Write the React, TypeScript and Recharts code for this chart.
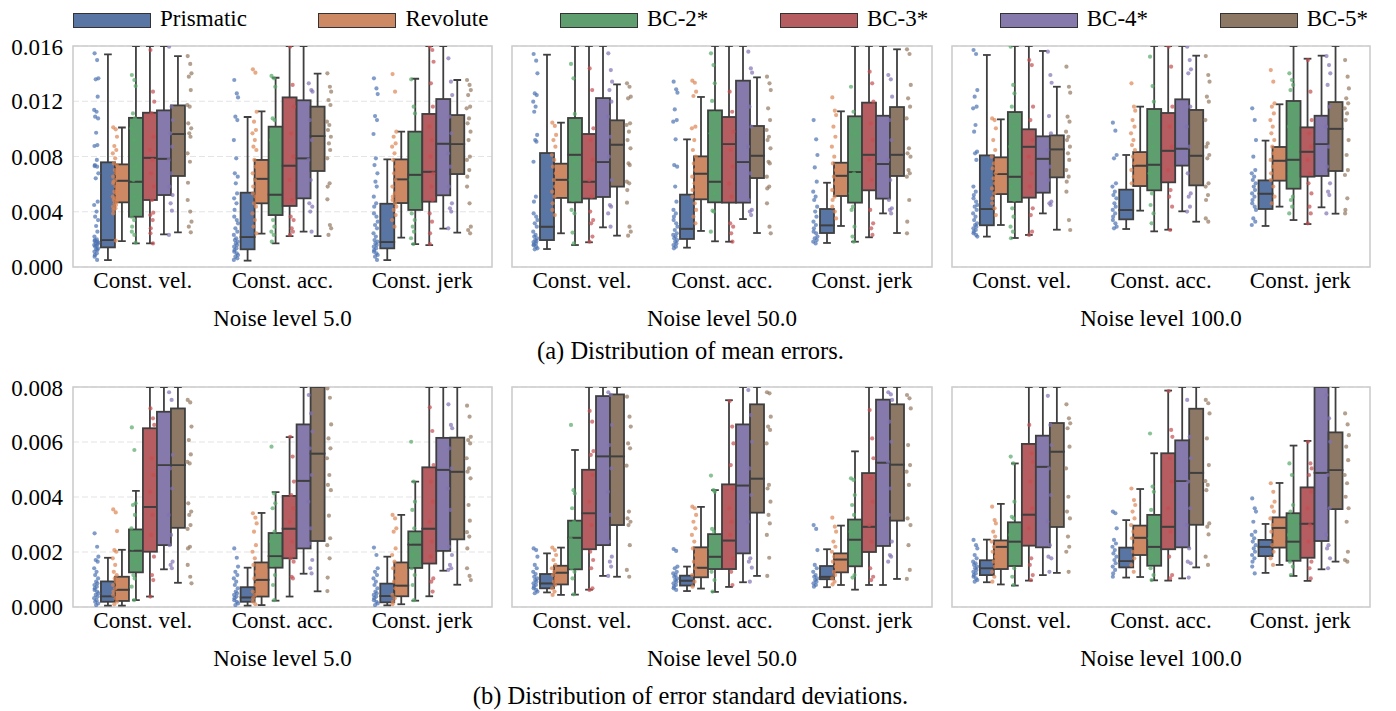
import React from 'react';
import { ComposedChart, Bar, Scatter, XAxis, YAxis, CartesianGrid, ReferenceArea, Legend } from 'recharts';

// ---------- categories / series ----------
const CATEGORIES = ['Const. vel.', 'Const. acc.', 'Const. jerk'];
const SERIES = ['Prismatic', 'Revolute', 'BC-2*', 'BC-3*', 'BC-4*', 'BC-5*'];
const NOISE_LABELS = ['Noise level 5.0', 'Noise level 50.0', 'Noise level 100.0'];
const CAPTIONS = ['(a) Distribution of mean errors.', '(b) Distribution of error standard deviations.'];

// values are in units of 1e-3
const MEAN_TICKS = [0, 4, 8, 12, 16];
const MEAN_TICK_LABELS = ['0.000', '0.004', '0.008', '0.012', '0.016'];
const STD_TICKS = [0, 2, 4, 6, 8];
const STD_TICK_LABELS = ['0.000', '0.002', '0.004', '0.006', '0.008'];

// box stats per series -> per category: [lower whisker, q1, median, q3, upper whisker]
const meanN5Stats = [
  [[0.5, 1.42, 1.95, 7.58, 15.4], [0.46, 1.28, 2.17, 5.38, 10.86], [0.5, 1.35, 1.81, 4.58, 7.79]],
  [[1.88, 4.68, 6.25, 7.43, 10.1], [2.41, 4.61, 6.39, 7.75, 11.27], [2.12, 4.63, 6.35, 7.79, 9.8]],
  [[1.71, 3.64, 6.18, 10.8, 17.5], [1.71, 3.76, 5.24, 10.16, 13.7], [1.66, 4.13, 6.68, 9.8, 13.63]],
  [[1.71, 4.85, 7.91, 11.17, 17], [2.24, 4.42, 7.34, 12.28, 17.5], [1.59, 4.73, 6.9, 11.08, 17]],
  [[2.36, 5.21, 7.84, 11.34, 16.5], [2.56, 4.97, 7.87, 12.07, 18], [2.78, 5.19, 8.93, 12.16, 18]],
  [[2.51, 6.59, 9.63, 11.7, 15.27], [2.24, 6.95, 9.48, 11.61, 14.0], [2.49, 6.73, 8.9, 11.0, 13.54]],
];
const meanN50Stats = [
  [[1.3, 1.95, 2.92, 8.25, 15.37], [1.4, 2.03, 2.77, 5.24, 9.24], [1.74, 2.46, 3.02, 4.2, 6.1]],
  [[2.44, 5.0, 6.32, 7.48, 10.45], [2.61, 4.9, 6.76, 8.01, 12.31], [2.97, 5.14, 6.61, 7.55, 11.27]],
  [[1.59, 4.68, 8.13, 10.79, 18], [1.86, 4.68, 6.18, 11.34, 18], [1.83, 4.66, 6.88, 10.91, 18]],
  [[1.79, 4.95, 6.18, 9.63, 17], [1.83, 4.66, 8.9, 10.86, 18], [2.15, 5.55, 8.13, 11.9, 18]],
  [[2.87, 5.07, 7.6, 12.23, 18], [3.47, 4.66, 7.6, 13.49, 19], [3.88, 4.95, 7.46, 10.95, 17]],
  [[2.27, 5.82, 8.86, 10.62, 13.22], [2.46, 6.44, 8.06, 10.21, 13.73], [2.46, 6.59, 8.13, 11.58, 15.76]],
];
const meanN100Stats = [
  [[2.2, 3.02, 4.2, 8.08, 15.35], [2.75, 3.45, 4.13, 5.6, 8.11], [2.97, 4.2, 5.31, 6.27, 9.15]],
  [[3.04, 5.28, 6.73, 7.94, 10.69], [4.08, 5.86, 7.34, 8.32, 11.61], [4.37, 6.25, 7.7, 8.69, 11.78]],
  [[2.1, 4.71, 6.54, 11.22, 18], [2.58, 5.55, 7.41, 11.44, 18], [3.4, 5.67, 7.77, 12.02, 18]],
  [[2.32, 5.02, 8.71, 9.97, 17.5], [2.7, 6.13, 8.42, 11.15, 17], [3.11, 6.54, 8.35, 10.11, 15.08]],
  [[3.88, 5.38, 7.84, 9.46, 15.64], [4.03, 7.34, 8.57, 12.14, 18], [4.32, 6.59, 8.9, 10.95, 15.3]],
  [[2.7, 6.49, 8.52, 9.53, 13.05], [3.28, 5.91, 8.06, 11.37, 15.3], [3.86, 6.95, 10.01, 11.94, 17]],
];
const stdN5Stats = [
  [[0.05, 0.19, 0.39, 0.93, 1.79], [0.05, 0.19, 0.35, 0.72, 1.43], [0.06, 0.17, 0.4, 0.85, 1.83]],
  [[0.05, 0.22, 0.63, 1.1, 2.08], [0.07, 0.38, 0.99, 1.62, 3.42], [0.1, 0.39, 0.78, 1.62, 3.35]],
  [[0.25, 1.26, 2.05, 2.82, 4.22], [0.23, 1.43, 1.85, 2.69, 4.18], [0.23, 1.42, 2.27, 2.75, 4.56]],
  [[0.38, 2.01, 3.64, 6.5, 9], [0.38, 1.77, 2.85, 4.04, 6.18], [0.39, 1.58, 2.85, 5.08, 9]],
  [[1.37, 2.25, 5.16, 7.1, 9.5], [1.21, 2.13, 4.59, 6.64, 9.5], [1.32, 2.04, 4.99, 6.15, 9.5]],
  [[0.88, 2.88, 5.16, 7.22, 9.5], [0.57, 2.4, 5.58, 8.1, 11], [0.81, 2.46, 4.92, 6.16, 9.5]],
];
const stdN50Stats = [
  [[0.53, 0.68, 0.86, 1.2, 1.95], [0.58, 0.78, 0.96, 1.14, 1.47], [0.72, 1.01, 1.1, 1.49, 2.1]],
  [[0.44, 0.82, 1.25, 1.5, 2.16], [0.67, 1.08, 1.43, 2.17, 3.64], [0.8, 1.26, 1.73, 1.95, 2.96]],
  [[0.45, 1.37, 2.52, 3.14, 5.71], [0.55, 1.38, 1.83, 2.65, 4.25], [0.63, 1.48, 2.45, 3.18, 5.66]],
  [[0.63, 2.1, 3.41, 4.99, 9], [0.73, 1.38, 2.42, 4.46, 7.52], [0.8, 2.0, 2.92, 4.87, 9]],
  [[1.13, 2.25, 5.48, 7.67, 10], [0.9, 1.95, 4.42, 6.64, 10], [0.8, 2.22, 5.25, 7.54, 10]],
  [[1.1, 2.98, 5.48, 7.73, 10], [1.13, 3.43, 4.67, 7.37, 10], [1.02, 3.14, 5.18, 7.37, 10]],
];
const stdN100Stats = [
  [[0.9, 1.16, 1.41, 1.7, 2.45], [1.07, 1.44, 1.67, 2.16, 3.16], [1.24, 1.85, 2.19, 2.44, 3.02]],
  [[0.82, 1.38, 2.19, 2.42, 3.75], [1.09, 1.89, 2.52, 2.96, 4.29], [1.53, 2.16, 2.88, 3.26, 4.51]],
  [[0.78, 1.49, 2.38, 3.08, 5.22], [0.97, 1.5, 2.19, 3.35, 5.59], [1.13, 1.68, 2.38, 3.41, 5.87]],
  [[0.96, 2.23, 3.36, 5.93, 9], [0.96, 2.1, 2.92, 5.59, 7.87], [0.95, 1.79, 3.03, 4.35, 6.04]],
  [[1.16, 2.17, 5.1, 6.23, 9.5], [1.04, 2.17, 4.58, 6.06, 9.5], [1.37, 2.4, 4.88, 8.2, 10]],
  [[1.24, 2.91, 5.65, 6.69, 10], [1.44, 2.99, 4.88, 7.21, 10], [1.65, 3.56, 4.98, 6.35, 9.5]],
];

// strip points per series -> per category
const meanN5Pts = [
  [
    [15.47, 14.98, 13.66, 13.59, 12.33, 11.37, 11.24, 10.88, 10.76, 9.72, 8.83, 8.76, 7.75, 7.38, 7.31, 7.26, 6.78, 6.42, 4.73, 4.49, 4.01, 3.64, 3.4, 2.97, 2.56, 2.2, 2.0, 1.95, 1.88, 1.83, 1.76, 1.71, 1.66, 1.59, 1.52, 1.47, 1.35, 1.28, 1.23, 1.11, 0.99, 0.87, 0.75, 0.51],
    [13.54, 12.57, 12.28, 10.88, 10.64, 9.19, 7.87, 6.78, 6.54, 6.06, 5.33, 4.97, 4.61, 4.13, 3.64, 3.4, 3.16, 2.8, 2.56, 2.32, 2.08, 1.95, 1.83, 1.71, 1.59, 1.47, 1.35, 1.23, 1.11, 0.99, 0.87, 0.75, 0.63, 0.51],
    [13.66, 12.93, 12.52, 10.93, 10.64, 9.63, 7.87, 7.38, 6.78, 6.18, 5.82, 5.09, 4.61, 4.37, 3.88, 3.64, 3.28, 3.04, 2.8, 2.44, 2.2, 1.95, 1.83, 1.71, 1.59, 1.47, 1.35, 1.23, 1.11, 0.99, 0.87, 0.75, 0.51],
  ],
  [
    [10.11, 9.97, 9.43, 8.76, 8.47, 8.23, 7.87, 7.5, 7.38, 7.02, 6.78, 6.54, 6.3, 6.18, 6.06, 5.82, 5.57, 5.45, 5.33, 5.09, 4.97, 4.85, 4.73, 4.61, 4.49, 4.37, 4.25, 4.13, 3.88, 1.91],
    [14.31, 14.07, 11.24, 10.52, 9.92, 9.68, 9.19, 8.71, 8.47, 7.75, 7.26, 6.78, 6.3, 5.82, 5.33, 5.09, 4.85, 4.61, 4.37, 3.88, 3.4, 2.92, 2.44],
    [13.97, 12.69, 9.8, 9.43, 8.95, 8.71, 8.23, 7.75, 7.26, 6.78, 6.3, 5.82, 5.33, 5.09, 4.85, 4.61, 4.37, 4.13, 3.76, 3.4, 2.92],
  ],
  [
    [13.9, 13.54, 13.1, 11.12, 10.76, 10.04, 9.19, 8.23, 7.26, 6.3, 5.09, 3.64, 3.4, 2.92, 2.56, 2.32, 1.76],
    [13.83, 13.66, 13.05, 10.76, 10.64, 9.19, 7.75, 6.3, 4.85, 3.4, 2.92, 2.56, 2.32, 1.83],
    [13.59, 11.61, 11.12, 9.19, 7.75, 6.3, 4.85, 3.88, 3.4, 2.92, 2.56, 2.08, 1.66],
  ],
  [
    [15.71, 12.69, 11.97, 11.12, 9.43, 8.47, 7.75, 6.78, 5.82, 4.85, 3.93, 3.76, 3.4, 2.8, 2.44, 1.71],
    [15.95, 13.18, 11.61, 9.68, 7.99, 6.3, 4.85, 3.64, 3.4, 2.8, 2.56, 2.32],
    [15.95, 15.71, 14.86, 13.3, 11.61, 10.16, 9.19, 7.99, 6.78, 5.82, 4.85, 3.88, 3.28, 2.44, 1.66],
  ],
  [
    [15.95, 11.61, 10.64, 9.68, 8.71, 7.75, 6.78, 5.82, 5.21, 4.61, 4.08, 2.32],
    [13.3, 12.81, 12.69, 10.64, 9.19, 7.75, 6.3, 4.61, 4.37, 4.01, 2.56],
    [15.11, 13.42, 12.45, 10.88, 9.68, 8.23, 7.26, 5.82, 4.61, 4.25, 4.01, 2.8],
  ],
  [
    [15.27, 14.7, 14.02, 13.78, 12.81, 11.73, 11.61, 10.4, 10.04, 9.68, 9.43, 8.23, 7.62, 6.1, 4.85, 4.01, 3.28, 2.92, 2.51],
    [14.02, 13.05, 12.69, 12.09, 11.73, 10.52, 10.28, 9.92, 9.43, 8.95, 8.47, 7.87, 6.06, 5.82, 4.9, 3.04, 2.8, 2.32],
    [13.54, 13.18, 12.81, 12.45, 11.61, 11.49, 10.76, 10.4, 9.8, 9.19, 7.99, 7.75, 7.02, 6.54, 5.82, 4.61, 2.92, 2.68, 2.44],
  ],
];
const meanN50Pts = [
  [
    [15.42, 14.94, 14.02, 12.57, 12.45, 11.97, 11.61, 11.24, 9.56, 9.19, 9.07, 7.62, 5.09, 4.73, 3.88, 3.64, 3.4, 3.16, 2.92, 2.56, 2.32, 2.2, 2.08, 1.95, 1.88, 1.81, 1.71, 1.64, 1.57, 1.47, 1.35, 1.28],
    [13.42, 12.86, 12.62, 11.41, 10.64, 10.52, 9.24, 7.38, 7.26, 5.82, 4.73, 4.13, 3.88, 3.64, 3.4, 3.16, 2.92, 2.68, 2.44, 2.32, 2.2, 2.08, 1.95, 1.83, 1.71, 1.59, 1.47, 1.35],
    [10.64, 9.24, 8.11, 7.21, 6.18, 5.45, 5.09, 4.85, 4.37, 4.01, 3.64, 3.28, 3.04, 2.8, 2.56, 2.44, 2.2, 2.08, 1.95, 1.83, 1.71],
  ],
  [
    [10.45, 10.21, 9.56, 9.19, 8.71, 8.11, 7.75, 7.26, 6.78, 6.3, 5.82, 5.45, 5.09, 4.61, 4.13, 3.76],
    [13.49, 13.34, 12.69, 12.38, 10.16, 10.04, 9.19, 8.47, 7.99, 7.5, 7.02, 6.54, 6.06, 5.57, 5.09, 4.61, 4.13, 3.64, 3.16],
    [12.28, 11.32, 11.0, 10.16, 9.43, 8.71, 7.99, 7.5, 7.02, 6.54, 6.06, 5.57, 5.09, 4.85, 4.37, 4.01, 3.52],
  ],
  [
    [14.7, 13.66, 11.08, 9.19, 7.75, 6.3, 4.85, 4.13, 3.88, 2.49, 1.71],
    [15.47, 14.62, 13.3, 12.02, 11.12, 9.68, 8.23, 6.78, 5.33, 4.08, 4.01, 2.56],
    [13.05, 11.24, 9.68, 8.23, 6.78, 5.33, 4.37, 4.13, 2.92, 2.2, 1.83],
  ],
  [
    [14.38, 12.81, 10.04, 9.19, 7.75, 6.3, 5.09, 4.01, 3.4, 3.16, 2.2, 1.83],
    [12.69, 11.24, 9.8, 8.47, 7.26, 6.06, 5.09, 3.16, 2.92, 2.44, 1.83],
    [14.14, 13.3, 11.97, 10.4, 9.19, 7.75, 6.3, 4.13, 3.16, 2.8, 2.32],
  ],
  [
    [15.47, 14.26, 13.42, 12.81, 11.97, 10.88, 9.43, 7.99, 6.3, 4.49, 4.37, 3.88, 2.92],
    [15.59, 14.38, 14.07, 11.61, 10.16, 8.71, 6.78, 4.85, 4.13, 4.01, 3.76],
    [13.9, 13.59, 12.33, 10.64, 9.19, 7.75, 6.3, 4.85, 4.25, 4.13, 3.88],
  ],
  [
    [13.3, 13.05, 12.33, 12.21, 10.4, 10.28, 9.8, 9.19, 8.59, 7.5, 7.38, 6.18, 6.06, 5.57, 4.66, 2.92, 2.56, 2.27],
    [13.78, 13.3, 12.81, 11.49, 10.64, 9.92, 9.43, 9.19, 8.59, 7.62, 7.5, 6.54, 5.82, 5.69, 4.61, 2.92, 2.44],
    [15.76, 15.42, 13.18, 12.21, 11.61, 10.76, 8.59, 8.23, 7.99, 7.02, 6.78, 6.54, 4.85, 3.28, 2.44],
  ],
];
const meanN100Pts = [
  [
    [15.71, 15.42, 12.81, 12.33, 11.61, 11.49, 10.28, 9.8, 8.35, 8.23, 7.75, 5.82, 5.45, 5.21, 4.97, 4.73, 4.49, 4.37, 4.13, 3.88, 3.64, 3.4, 3.16, 3.04, 2.92, 2.8, 2.68, 2.56, 2.44, 2.32, 2.2],
    [10.45, 9.87, 8.11, 7.87, 6.06, 5.82, 5.45, 5.21, 4.97, 4.61, 4.37, 4.13, 3.88, 3.64, 3.4, 3.16, 2.92, 2.8],
    [11.49, 10.64, 9.19, 7.99, 7.02, 6.78, 6.54, 6.3, 6.06, 5.82, 5.57, 5.33, 5.09, 4.85, 4.61, 4.37, 4.13, 3.52, 3.28, 3.04],
  ],
  [
    [10.76, 10.64, 10.04, 9.19, 8.47, 7.99, 7.5, 7.14, 6.78, 6.42, 6.06, 5.69, 5.33, 4.97, 4.61, 4.25, 3.76],
    [13.3, 11.61, 11.32, 10.64, 10.16, 9.68, 9.19, 8.83, 8.47, 7.99, 7.5, 7.02, 6.54, 6.06],
    [14.26, 13.42, 11.85, 11.61, 11.12, 10.64, 10.16, 9.68, 9.19, 8.71, 8.23, 7.75, 7.26, 6.78, 6.3, 5.82, 5.09, 4.61],
  ],
  [
    [15.95, 13.18, 12.57, 11.61, 10.16, 8.71, 7.26, 5.82, 4.85, 4.25, 3.64, 2.92, 2.56, 2.08],
    [15.23, 13.1, 11.97, 10.4, 8.71, 6.78, 5.33, 4.49, 3.88, 3.16],
    [14.02, 13.54, 13.18, 12.81, 11.61, 10.16, 8.71, 6.78, 5.09, 4.85, 4.37, 3.88],
  ],
  [
    [14.98, 14.62, 11.61, 10.64, 9.19, 7.99, 6.78, 5.82, 4.25, 3.76, 2.56, 2.32],
    [15.95, 14.5, 11.61, 10.16, 8.71, 7.02, 5.57, 5.09, 4.37, 2.68],
    [14.98, 12.69, 10.64, 9.68, 8.71, 7.75, 6.78, 6.06, 5.33, 4.37, 3.88, 3.16],
  ],
  [
    [15.59, 13.9, 13.34, 10.93, 9.68, 8.47, 7.26, 6.3, 4.73, 4.61, 4.49],
    [15.95, 14.98, 14.31, 14.02, 11.61, 10.16, 8.71, 6.78, 5.33, 5.09, 4.37, 4.01],
    [15.27, 14.62, 14.02, 13.18, 11.61, 10.16, 8.71, 7.26, 6.06, 5.45, 5.21, 3.88],
  ],
  [
    [14.5, 13.05, 12.62, 10.88, 10.52, 9.8, 9.43, 9.19, 8.71, 8.23, 7.75, 7.02, 6.54, 6.18, 5.45, 3.4, 2.68],
    [15.27, 13.9, 13.42, 12.33, 11.97, 10.64, 8.95, 8.71, 8.11, 7.87, 6.06, 5.82, 5.21, 4.85, 3.52, 3.28],
    [14.98, 13.78, 12.93, 12.21, 11.85, 11.49, 11.12, 10.64, 9.19, 8.11, 7.02, 6.66, 4.97, 4.13, 3.88],
  ],
];
const stdN5Pts = [
  [
    [2.68, 2.19, 1.83, 1.71, 1.65, 1.41, 1.28, 1.16, 1.04, 0.92, 0.86, 0.8, 0.74, 0.68, 0.62, 0.56, 0.5, 0.44, 0.38, 0.32, 0.25, 0.19, 0.13, 0.07],
    [2.13, 1.79, 1.47, 1.28, 1.16, 1.04, 0.92, 0.8, 0.68, 0.56, 0.5, 0.44, 0.38, 0.32, 0.25, 0.19, 0.13, 0.07],
    [2.16, 1.89, 1.41, 1.28, 1.16, 1.04, 0.92, 0.8, 0.68, 0.56, 0.5, 0.44, 0.38, 0.32, 0.25, 0.19, 0.13, 0.07],
  ],
  [
    [3.55, 3.44, 2.76, 2.07, 2.01, 1.77, 1.53, 1.28, 1.16, 1.04, 0.92, 0.8, 0.68, 0.56, 0.44, 0.32, 0.19, 0.1],
    [3.41, 3.25, 3.04, 2.74, 2.25, 2.01, 1.77, 1.53, 1.28, 1.04, 0.8, 0.56, 0.44, 0.32, 0.19, 0.1],
    [3.35, 3.22, 2.86, 2.74, 2.13, 1.89, 1.65, 1.41, 1.16, 0.92, 0.68, 0.44, 0.32, 0.19, 0.1],
  ],
  [
    [6.53, 5.71, 3.77, 3.71, 3.35, 2.86, 2.62, 2.13, 1.65, 1.16, 1.04, 0.74, 0.25],
    [5.83, 4.13, 3.77, 3.59, 2.74, 2.38, 2.01, 1.53, 1.16, 0.8, 0.25],
    [6.01, 4.56, 3.83, 3.53, 2.86, 2.38, 1.89, 1.41, 1.16, 0.8, 0.25],
  ],
  [
    [7.22, 6.86, 6.62, 5.41, 4.8, 4.19, 3.35, 2.62, 1.83, 1.16, 0.98, 0.38],
    [6.19, 5.47, 4.56, 4.07, 3.59, 3.1, 2.38, 1.77, 1.65, 1.1, 1.04],
    [7.26, 6.4, 5.16, 4.56, 3.83, 3.1, 2.38, 1.83, 1.04, 0.92, 0.56],
  ],
  [
    [7.81, 7.53, 5.53, 5.04, 4.31, 3.35, 2.62, 2.25, 1.65, 1.53, 1.41],
    [7.71, 7.04, 6.38, 5.77, 4.8, 3.83, 2.86, 2.31, 1.71, 1.41, 1.22],
    [7.37, 6.62, 6.5, 5.77, 5.04, 4.31, 3.53, 2.19, 1.89, 1.53, 1.41, 1.35],
  ],
  [
    [7.53, 7.44, 6.56, 6.07, 5.55, 5.28, 5.22, 3.77, 3.47, 3.35, 2.98, 2.84, 2.19, 2.13, 1.53, 1.1, 0.86],
    [7.95, 7.61, 6.64, 6.13, 5.77, 5.41, 4.8, 4.44, 4.25, 3.32, 2.5, 2.25, 1.77, 1.07, 0.58],
    [7.32, 6.92, 6.19, 6.07, 5.95, 5.41, 5.04, 4.92, 4.68, 3.71, 3.14, 2.72, 2.56, 2.13, 1.41, 1.13, 0.98],
  ],
];
const stdN50Pts = [
  [
    [2.13, 2.07, 1.83, 1.53, 1.41, 1.28, 1.2, 1.1, 1.04, 0.98, 0.92, 0.86, 0.8, 0.74, 0.68, 0.62, 0.56, 0.5],
    [2.11, 2.04, 1.47, 1.41, 1.28, 1.22, 1.16, 1.1, 1.04, 0.98, 0.92, 0.86, 0.8, 0.74, 0.68, 0.62],
    [2.98, 2.84, 2.07, 1.53, 1.41, 1.28, 1.16, 1.1, 1.04, 0.98, 0.92, 0.86, 0.8, 0.74],
  ],
  [
    [2.16, 2.07, 1.89, 1.71, 1.53, 1.41, 1.28, 1.16, 1.04, 0.92, 0.8, 0.68, 0.56, 0.44],
    [3.65, 3.59, 3.35, 3.1, 2.86, 2.62, 2.38, 2.13, 1.89, 1.65, 1.41, 1.16, 0.92, 0.74],
    [3.25, 2.92, 2.74, 2.38, 2.19, 2.01, 1.83, 1.65, 1.47, 1.28, 1.16, 1.04, 0.92, 0.82],
  ],
  [
    [6.62, 4.25, 4.13, 3.59, 3.1, 2.5, 1.89, 1.41, 1.28, 1.04, 0.46],
    [4.78, 4.25, 4.19, 2.84, 2.74, 2.13, 1.65, 1.28, 0.98, 0.56],
    [4.68, 4.62, 4.07, 3.71, 3.35, 2.74, 2.13, 1.65, 1.16, 1.07],
  ],
  [
    [7.13, 6.74, 5.67, 5.53, 4.8, 3.83, 2.98, 2.01, 1.71, 1.41, 0.68, 0.62],
    [7.49, 6.56, 5.95, 5.16, 4.31, 3.59, 3.1, 2.62, 1.77, 1.28, 0.8],
    [7.16, 6.13, 5.41, 4.68, 3.83, 2.98, 2.38, 1.41, 1.1, 0.98],
  ],
  [
    [7.81, 7.71, 6.62, 5.89, 5.04, 4.19, 3.35, 2.38, 1.83, 1.65, 1.47, 1.13],
    [7.89, 6.98, 6.01, 5.04, 4.07, 3.1, 1.77, 1.65, 1.43, 0.92],
    [7.81, 7.73, 7.53, 6.74, 6.01, 5.28, 4.31, 3.35, 2.38, 1.89, 1.83, 1.65],
  ],
  [
    [7.65, 6.92, 6.56, 5.95, 5.77, 5.14, 3.47, 3.22, 3.1, 2.98, 2.25, 1.35, 1.1],
    [7.81, 7.77, 6.92, 6.56, 6.44, 5.95, 4.44, 4.31, 3.83, 3.35, 3.04, 2.62, 1.79, 1.13],
    [7.71, 7.59, 7.22, 5.89, 5.16, 4.92, 4.44, 3.22, 2.98, 2.25, 1.35, 1.02],
  ],
];
const stdN100Pts = [
  [
    [2.44, 2.25, 2.13, 1.89, 1.77, 1.65, 1.59, 1.53, 1.47, 1.41, 1.35, 1.28, 1.22, 1.16, 1.1, 1.04, 0.98, 0.92],
    [3.47, 3.41, 2.86, 2.44, 2.31, 2.19, 2.07, 1.95, 1.83, 1.71, 1.59, 1.47, 1.35, 1.22, 1.1],
    [3.95, 3.59, 3.47, 3.1, 2.74, 2.62, 2.5, 2.38, 2.25, 2.13, 2.01, 1.89, 1.77, 1.65, 1.47, 1.22],
  ],
  [
    [3.65, 3.16, 3.04, 2.74, 2.56, 2.38, 2.19, 2.01, 1.83, 1.65, 1.47, 1.28, 1.1, 0.92],
    [4.31, 3.89, 3.71, 3.47, 3.22, 2.98, 2.74, 2.5, 2.25, 2.01, 1.77, 1.53, 1.28],
    [4.5, 4.19, 3.83, 3.65, 3.47, 3.22, 2.98, 2.74, 2.5, 2.25, 2.01, 1.77, 1.53],
  ],
  [
    [5.47, 5.22, 3.83, 3.28, 3.22, 2.62, 2.13, 1.65, 1.41, 1.1, 0.8],
    [6.31, 4.38, 4.19, 3.53, 3.1, 2.5, 1.89, 1.41, 1.16, 0.98],
    [5.22, 4.8, 3.71, 3.47, 3.1, 2.62, 2.01, 1.65, 1.47, 1.16],
  ],
  [
    [6.62, 5.59, 5.28, 4.56, 3.59, 2.86, 1.77, 1.53, 1.16, 0.98],
    [7.85, 6.44, 6.19, 5.41, 4.56, 3.59, 2.74, 1.83, 1.16, 1.04],
    [6.01, 5.22, 5.04, 4.8, 4.19, 3.59, 2.98, 2.38, 1.65, 1.41, 1.04],
  ],
  [
    [7.68, 6.62, 5.89, 5.04, 4.07, 3.1, 2.25, 1.83, 1.77, 1.28],
    [7.53, 6.19, 5.41, 4.56, 3.59, 2.98, 2.13, 1.65, 1.59, 1.07],
    [7.71, 6.86, 6.01, 4.8, 3.59, 2.62, 2.25, 2.13, 1.77, 1.41],
  ],
  [
    [7.37, 6.86, 6.68, 6.5, 5.83, 5.04, 4.01, 3.47, 3.22, 2.56, 2.19, 2.01, 1.28],
    [7.53, 7.41, 7.04, 6.13, 5.16, 4.58, 4.44, 4.25, 3.04, 2.92, 2.64, 1.83, 1.53],
    [7.04, 6.64, 6.25, 5.83, 5.34, 4.8, 4.5, 4.01, 3.59, 3.1, 2.01, 1.71, 1.65],
  ],
];

// ---------- styling ----------
const FONT = '"Liberation Serif", "Times New Roman", Times, serif';
const BOX_COLORS = ['#5875a4', '#cc8963', '#5f9e6e', '#b55d60', '#857aab', '#8d7866'];
const DOT_COLORS = ['#4c72b0', '#dd8452', '#55a868', '#c44e52', '#8172b3', '#937860'];
const LINE = '#3f3f3f';
const LW = 1.8;
const JITTER = [-0.012, 0.006, 0.015, -0.004, 0.01, -0.015, 0.002, -0.008, 0.013, -0.001, 0.008, -0.013, 0.004, -0.01];
const STRIP_START = 0.1;
const STRIP_SLOT = 0.8 / 6;

const PLOT_LEFTS = [73, 512, 952];
const PLOT_WIDTHS = [419, 420, 418];
const ROW_TOPS = [46, 387];
const ROW_HEIGHTS = [221, 220];
const YAXIS_W = 70;
const TOP_PAD = 12;
const RIGHT_PAD = 4;
const XAXIS_H = 70;

const buildRows = (stats: number[][][]) =>
  CATEGORIES.map((cat, c) => {
    const row: any = { cat };
    stats.forEach((s, i) => {
      const [lo, q1, md, q3, hi] = s[c];
      row[`base${i}`] = lo;
      row[`wl${i}`] = q1 - lo;
      row[`bl${i}`] = md - q1;
      row[`bu${i}`] = q3 - md;
      row[`wu${i}`] = hi - q3;
    });
    return row;
  });

const buildStrip = (pts: number[][][], i: number) =>
  pts[i].flatMap((vals, c) =>
    vals.map((v, k) => ({ x: c + STRIP_START + (i + 0.5) * STRIP_SLOT + JITTER[k % JITTER.length], y: v }))
  );

const span = (p: any) => {
  const a = p.y;
  const b = p.y + p.height;
  return [Math.min(a, b), Math.max(a, b)];
};

const EmptyShape = () => <g />;

const LowerWhisker = (p: any) => {
  const [top, bot] = span(p);
  const cx = p.x + p.width / 2;
  const cap = p.width * 0.275;
  return (
    <g>
      <line x1={cx} x2={cx} y1={top} y2={bot} stroke={LINE} strokeWidth={LW} />
      <line x1={cx - cap} x2={cx + cap} y1={bot} y2={bot} stroke={LINE} strokeWidth={LW} />
    </g>
  );
};

const UpperWhisker = (p: any) => {
  const [top, bot] = span(p);
  const cx = p.x + p.width / 2;
  const cap = p.width * 0.275;
  return (
    <g>
      <line x1={cx} x2={cx} y1={top} y2={bot} stroke={LINE} strokeWidth={LW} />
      <line x1={cx - cap} x2={cx + cap} y1={top} y2={top} stroke={LINE} strokeWidth={LW} />
    </g>
  );
};

const BoxHalf = (p: any) => {
  const [top, bot] = span(p);
  return <rect x={p.x} y={top} width={p.width} height={bot - top} fill={p.fill} stroke={LINE} strokeWidth={LW} />;
};

type PanelProps = { stats: number[][][]; pts: number[][][]; row: number; col: number };

function Panel({ stats, pts, row, col }: PanelProps) {
  const rows = buildRows(stats);
  const ticks = row === 0 ? MEAN_TICKS : STD_TICKS;
  const labels = row === 0 ? MEAN_TICK_LABELS : STD_TICK_LABELS;
  const max = ticks[ticks.length - 1];
  const plotW = PLOT_WIDTHS[col];
  const plotH = ROW_HEIGHTS[row];
  const showY = col === 0;
  return (
    <div style={{ position: 'absolute', left: PLOT_LEFTS[col] - YAXIS_W, top: ROW_TOPS[row] - TOP_PAD }}>
      <ComposedChart
        width={YAXIS_W + plotW + RIGHT_PAD}
        height={TOP_PAD + plotH + XAXIS_H}
        data={rows}
        margin={{ top: TOP_PAD, right: RIGHT_PAD, bottom: 0, left: 0 }}
        barCategoryGap="20%"
        barGap={0}
      >
        <CartesianGrid vertical={false} stroke="#e4e4e4" strokeWidth={1.2} strokeDasharray="6 3" />
        <XAxis
          dataKey="cat"
          type="category"
          height={XAXIS_H}
          axisLine={false}
          tickLine={false}
          tickSize={3}
          tickMargin={2}
          interval={0}
          tick={{ fontSize: 23, fill: '#000' }}
          label={{ value: NOISE_LABELS[col], position: 'insideBottom', offset: 11, fontSize: 23, fill: '#000' }}
        />
        <XAxis xAxisId="pts" type="number" dataKey="x" domain={[0, 3]} allowDataOverflow hide />
        <YAxis
          domain={[0, max]}
          ticks={ticks}
          allowDataOverflow
          width={YAXIS_W}
          axisLine={false}
          tickLine={false}
          tickSize={8}
          tickMargin={2}
          tick={showY ? { fontSize: 23, fill: '#000' } : false}
          tickFormatter={(v: number) => labels[ticks.indexOf(v)] ?? ''}
        />
        <ReferenceArea y1={0} y2={max} fill="none" fillOpacity={0} stroke="#cccccc" strokeWidth={1.6} ifOverflow="visible" />
        {SERIES.flatMap((name, i) => [
          <Bar key={`base${i}`} dataKey={`base${i}`} stackId={`s${i}`} shape={EmptyShape} isAnimationActive={false} />,
          <Bar key={`wl${i}`} dataKey={`wl${i}`} stackId={`s${i}`} shape={LowerWhisker} isAnimationActive={false} />,
          <Bar key={`bl${i}`} dataKey={`bl${i}`} name={name} stackId={`s${i}`} fill={BOX_COLORS[i]} shape={BoxHalf} isAnimationActive={false} />,
          <Bar key={`bu${i}`} dataKey={`bu${i}`} stackId={`s${i}`} fill={BOX_COLORS[i]} shape={BoxHalf} isAnimationActive={false} />,
          <Bar key={`wu${i}`} dataKey={`wu${i}`} stackId={`s${i}`} shape={UpperWhisker} isAnimationActive={false} />,
        ])}
        {SERIES.map((name, i) => (
          <Scatter
            key={`pts${i}`}
            name={name}
            data={buildStrip(pts, i)}
            xAxisId="pts"
            dataKey="y"
            isAnimationActive={false}
            shape={(p: any) => <circle cx={p.cx} cy={p.cy} r={2.1} fill={DOT_COLORS[i]} fillOpacity={0.7} />}
          />
        ))}
      </ComposedChart>
    </div>
  );
}

const renderLegend = () => (
  <div
    style={{
      display: 'flex',
      justifyContent: 'space-between',
      alignItems: 'center',
      marginLeft: 73,
      width: 1295,
      height: 40,
      fontFamily: FONT,
    }}
  >
    {SERIES.map((s, i) => (
      <div key={s} style={{ display: 'flex', alignItems: 'center' }}>
        <span
          style={{
            display: 'inline-block',
            width: 78,
            height: 15,
            background: BOX_COLORS[i],
            border: '1.4px solid #333',
            boxSizing: 'border-box',
          }}
        />
        <span style={{ marginLeft: 9, fontSize: 23, lineHeight: '23px', color: '#000', marginTop: -3 }}>{s}</span>
      </div>
    ))}
  </div>
);

const PANELS = [
  { stats: meanN5Stats, pts: meanN5Pts, row: 0, col: 0 },
  { stats: meanN50Stats, pts: meanN50Pts, row: 0, col: 1 },
  { stats: meanN100Stats, pts: meanN100Pts, row: 0, col: 2 },
  { stats: stdN5Stats, pts: stdN5Pts, row: 1, col: 0 },
  { stats: stdN50Stats, pts: stdN50Pts, row: 1, col: 1 },
  { stats: stdN100Stats, pts: stdN100Pts, row: 1, col: 2 },
];

export default function App() {
  return (
    <div
      style={{
        position: 'absolute',
        left: 0,
        top: 0,
        width: 1396,
        height: 711,
        background: '#fff',
        fontFamily: FONT,
        overflow: 'hidden',
      }}
    >
      <div style={{ position: 'absolute', left: 0, top: 0 }}>
        <ComposedChart width={1396} height={40} data={[{}]} margin={{ top: 0, right: 0, bottom: 0, left: 0 }}>
          {SERIES.map((s, i) => (
            <Bar key={s} dataKey={s} name={s} fill={BOX_COLORS[i]} isAnimationActive={false} />
          ))}
          <Legend
            verticalAlign="top"
            wrapperStyle={{ left: 0, top: 0, width: 1396, height: 40 }}
            content={renderLegend}
          />
        </ComposedChart>
      </div>
      {PANELS.map((p) => (
        <Panel key={`${p.row}-${p.col}`} {...p} />
      ))}
      <div
        style={{
          position: 'absolute',
          left: 0,
          width: 1381,
          top: 338.5,
          textAlign: 'center',
          fontSize: 24.5,
          lineHeight: '24.5px',
          color: '#000',
        }}
      >
        {CAPTIONS[0]}
      </div>
      <div
        style={{
          position: 'absolute',
          left: 0,
          width: 1381,
          top: 683.5,
          textAlign: 'center',
          fontSize: 24.5,
          lineHeight: '24.5px',
          color: '#000',
        }}
      >
        {CAPTIONS[1]}
      </div>
    </div>
  );
}
